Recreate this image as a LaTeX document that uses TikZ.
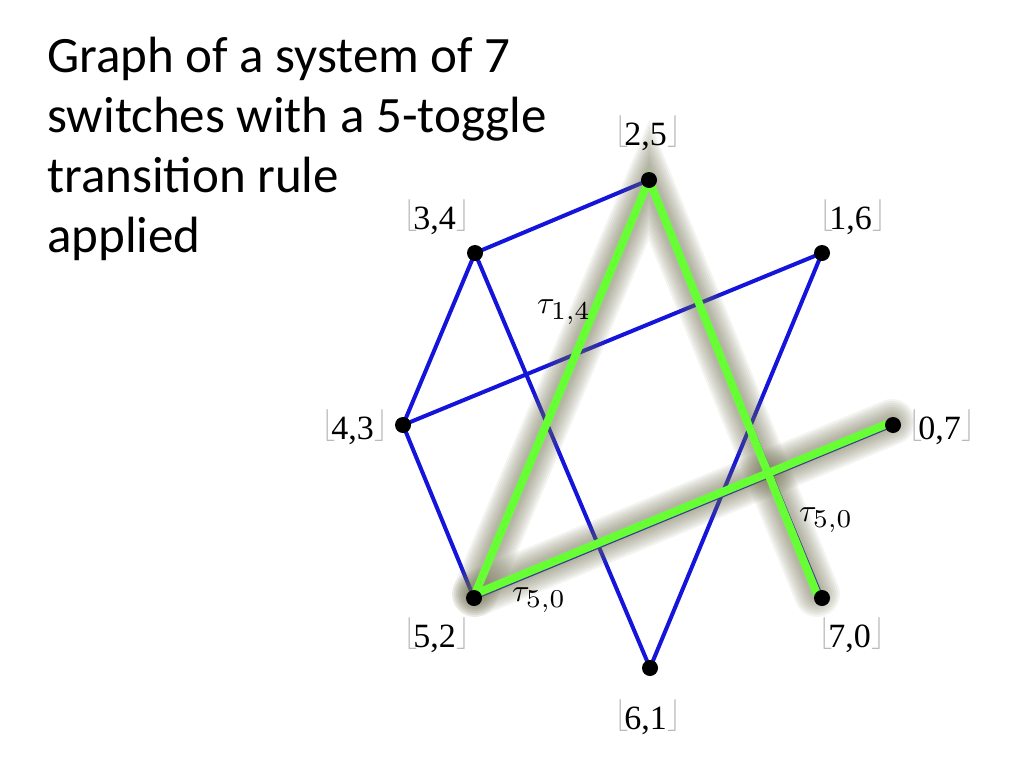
\documentclass[tikz,border=0pt]{standalone}
\usepackage{amsmath}
\usepackage{graphicx}
\usepackage{fontspec}
\usepackage{tikz}
\setmainfont{Liberation Serif}
\newfontfamily\titlefont{Carlito}
\usetikzlibrary{positioning}
\definecolor{mblue}{rgb}{0.08, 0.08, 0.86}
\definecolor{mgreen}{rgb}{0.4, 1, 0.2}
\definecolor{mglow}{rgb}{0.42, 0.42, 0.3}
\tikzset{
  dot/.style={circle, fill=black, inner sep=0pt, minimum size=16pt},
  pair/.style={font=\fontsize{34}{38}\selectfont, inner sep=0pt},
  edge/.style={mblue, line width=4pt},
  toggle/.style={mgreen, line width=8pt},
  tau/.style={inner sep=0pt}
}
\newcommand{\floorbar}[1]{\raisebox{6pt}{\scalebox{3.2}{\fontsize{10}{12}\selectfont\color{gray!55}$#1$}}}
\newcommand{\pairlabel}[2]{\floorbar{\lfloor}\kern-4pt#1,#2\kern1pt\floorbar{\rfloor}}
\newcommand{\taulabel}[1]{\scalebox{3.2}{$\tau_{\scalebox{1.15}{$\scriptstyle #1$}}$}}

\begin{document}
\begin{tikzpicture}[x=1pt, y=-1pt]
      \useasboundingbox (0, 0) rectangle (1024, 768);

      \node [anchor=base west, align=left, inner sep=0pt, font=\titlefont\fontsize{51}{60}\selectfont] (title) at (47, 252)
        {Graph of a system of 7\\switches with a 5-toggle\\transition rule\\applied};

      \coordinate (p25) at (649, 180);
      \coordinate (p34) at (475, 253);
      \coordinate (p16) at (822, 253);
      \coordinate (p43) at (403, 425);
      \coordinate (p07) at (893, 425);
      \coordinate (p52) at (474, 598);
      \coordinate (p70) at (822, 598);
      \coordinate (p61) at (650, 668);

      % ends of the toggled edges
      \coordinate (g70) at (817, 594);
      \coordinate (g52) at (475, 594);
      \coordinate (g07) at (892, 422);

      \draw [edge] (p25) -- (p34) -- (p43) -- (p52);
      \draw [edge] (p34) -- (p61) -- (p16) -- (p43);
      \draw [edge] (p25) -- (p70);
      \draw [edge] (p52) -- (p07);
      \draw [edge] (p25) -- (p52);

      \foreach \w in {46, 42, 38, 34, 30, 26, 22, 18, 14} {
        \draw [mglow, line width=\w pt, opacity=0.075, line cap=round] (g52) -- (p25) -- (g70);
        \draw [mglow, line width=\w pt, opacity=0.075, line cap=round] (g52) -- (g07);
      }
      \draw [toggle] (g52) -- (p25) -- (g70);
      \draw [toggle] (g52) -- (g07);

      \foreach \p in {25, 34, 16, 43, 07, 52, 70, 61}
        \node [dot] (n\p) at (p\p) {};

      \node [pair] (l25) at (648, 133) {\pairlabel{2}{5}};
      \node [pair] (l34) at (437, 217) {\pairlabel{3}{4}};
      \node [pair] (l16) at (853, 217) {\pairlabel{1}{6}};
      \node [pair] (l43) at (355, 427) {\pairlabel{4}{3}};
      \node [pair] (l07) at (942, 427) {\pairlabel{0}{7}};
      \node [pair] (l52) at (437, 635) {\pairlabel{5}{2}};
      \node [pair] (l70) at (852, 635) {\pairlabel{7}{0}};
      \node [pair] (l61) at (648, 717) {\pairlabel{6}{1}};

      \node [tau] (t14) at (564, 312) {\taulabel{1,4}};
      \node [tau] (t50a) at (539, 600) {\taulabel{5,0}};
      \node [tau] (t50b) at (826, 520) {\taulabel{5,0}};
    \end{tikzpicture}
\end{document}
